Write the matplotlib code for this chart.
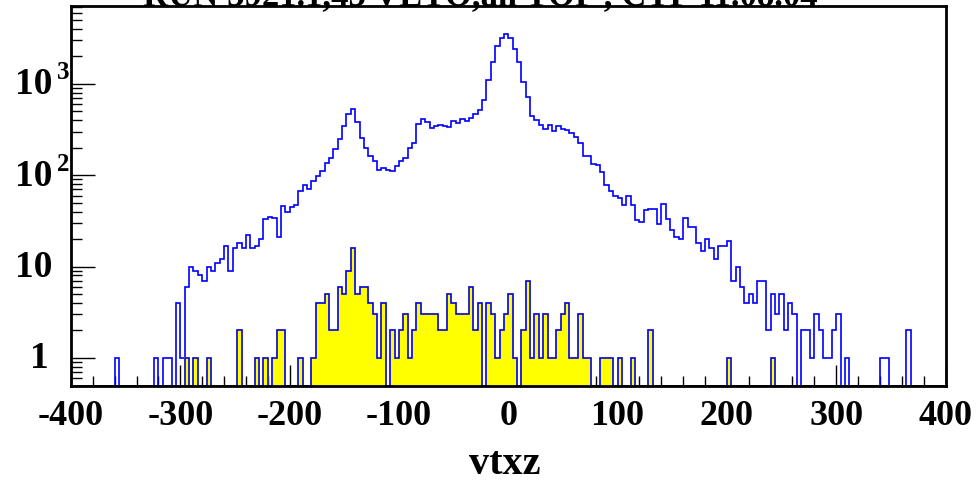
import numpy as np
import matplotlib
matplotlib.use("Agg")
import matplotlib.pyplot as plt
from matplotlib.ticker import MultipleLocator, FixedLocator, NullFormatter

# ---------------- data ----------------
title = "RUN 5921.1,45 VETO,all TOF , CTF 11.08.04"
x_label = "vtxz"
x_min, x_max, n_bins = -400, 400, 200
x_ticks = [-400, -300, -200, -100, 0, 100, 200, 300, 400]
x_tick_labels = ["-400", "-300", "-200", "-100", "0", "100", "200", "300", "400"]
y_ticks = [1, 10, 100, 1000]
y_min, y_max = 0.5, 7200

# blue histogram (all events), 4-unit bins from -400 to 400
blue_counts = [
    0, 0, 0, 0, 0, 0, 0, 0, 0, 0,            # -400 .. -364
    1, 0, 0, 0, 0, 0, 0, 0, 0, 1,            # -360 .. -324
    0, 1, 1, 0, 4, 1, 6, 10, 9, 8,           # -320 .. -284
    7, 10, 9, 11, 12, 17, 9, 16, 18, 16,     # -280 .. -244
    22, 16, 17, 20, 33, 35, 34, 21, 46, 40,  # -240 .. -204
    45, 47, 68, 78, 71, 87, 97, 110, 136, 154,   # -200 .. -164
    194, 250, 350, 472, 524, 384, 257, 198, 162, 142,  # -160 .. -124
    115, 119, 115, 110, 126, 142, 155, 198, 225, 365,  # -120 .. -84
    408, 384, 325, 345, 356, 345, 334, 397, 375, 410,  # -80 .. -44
    388, 421, 463, 514, 660, 1090, 1740, 2570, 3200, 3470,  # -40 .. -4
    3200, 2420, 1740, 1060, 720, 450, 400, 358, 322, 358,   # 0 .. 36
    303, 345, 322, 313, 293, 262, 225, 164, 164, 134,  # 40 .. 76
    128, 108, 78, 68, 60, 56, 47, 59, 47, 32,  # 80 .. 116
    31, 42, 43, 43, 29, 48, 33, 25, 21, 20,    # 120 .. 156
    34, 27, 27, 18, 15, 20, 16, 12, 17, 17,    # 160 .. 196
    19, 7, 10, 6, 4, 5, 4, 7, 7, 2,            # 200 .. 236
    5, 3, 5, 2, 4, 3, 0, 2, 2, 1,              # 240 .. 276
    3, 2, 1, 1, 2, 3, 0, 1, 0, 0,              # 280 .. 316
    0, 0, 0, 0, 0, 1, 1, 0, 0, 0,              # 320 .. 356
    0, 2, 0, 0, 0, 0, 0, 0, 0, 0,              # 360 .. 396
]

# yellow histogram (selected events)
yellow_counts = [
    0, 0, 0, 0, 0, 0, 0, 0, 0, 0,
    0, 0, 0, 0, 0, 0, 0, 0, 0, 0,
    0, 0, 0, 0, 0, 0, 1, 0, 1, 0,
    0, 1, 0, 0, 0, 0, 0, 0, 2, 0,
    0, 0, 1, 0, 1, 0, 1, 2, 2, 0,
    0, 0, 1, 0, 0, 1, 4, 4, 5, 2,
    2, 6, 5, 9, 16, 5, 6, 6, 4, 3,
    1, 4, 0, 2, 1, 2, 3, 1, 2, 4,
    3, 3, 3, 3, 2, 2, 5, 4, 3, 3,
    3, 6, 2, 4, 0, 4, 3, 1, 2, 3,
    5, 1, 0, 2, 7, 1, 3, 1, 3, 1,
    1, 2, 3, 4, 1, 1, 3, 1, 1, 0,
    0, 1, 1, 1, 0, 1, 0, 0, 1, 0,
    0, 0, 2, 0, 0, 0, 0, 0, 0, 0,
    0, 0, 0, 0, 0, 0, 0, 0, 0, 0,
    1, 0, 0, 0, 0, 0, 0, 0, 0, 0,
    1, 0, 0, 0, 0, 0, 0, 0, 0, 0,
    0, 0, 0, 0, 0, 0, 0, 0, 0, 0,
    0, 0, 0, 0, 0, 0, 0, 0, 0, 0,
    0, 0, 0, 0, 0, 0, 0, 0, 0, 0,
]

# ---------------- figure ----------------
W, H = 976, 485
fig = plt.figure(figsize=(W / 100, H / 100), dpi=100)
ax_l, ax_r, ax_t, ax_b = 71, 945.5, 6.5, 386.5
ax = fig.add_axes([ax_l / W, 1 - ax_b / H, (ax_r - ax_l) / W, (ax_b - ax_t) / H])

edges = np.linspace(x_min, x_max, n_bins + 1)
blue = np.asarray(blue_counts, dtype=float)
yel = np.asarray(yellow_counts, dtype=float)
blue_draw = np.where(blue > 0, blue, y_min)
yel_draw = np.where(yel > 0, yel, y_min)

ax.set_yscale("log")
ax.set_xlim(x_min, x_max)
ax.set_ylim(y_min, y_max)

blue_col = "#0000ff"
ax.stairs(blue_draw, edges, color=blue_col, linewidth=1.2, baseline=None, zorder=2)
ax.stairs(yel_draw, edges, fill=True, facecolor="#ffff00", edgecolor="#ffff00",
          linewidth=1.5, baseline=y_min, zorder=3)
ax.stairs(yel_draw, edges, color=blue_col, linewidth=1.2, baseline=None, zorder=3.1)

# frame
for s in ax.spines.values():
    s.set_linewidth(2.0)
    s.set_color("black")
    s.set_zorder(5)

font = dict(family="Liberation Serif", weight="bold")

# x axis ticks
ax.xaxis.set_major_locator(FixedLocator(x_ticks))
ax.xaxis.set_minor_locator(MultipleLocator(20))
ax.set_xticklabels(x_tick_labels, fontdict=dict(size=26, **font))
ax.tick_params(axis="x", which="major", direction="in", length=15, width=1,
               pad=10, top=False)
ax.tick_params(axis="x", which="minor", direction="in", length=7, width=1, top=False)

# y axis ticks
ax.yaxis.set_major_locator(FixedLocator(y_ticks))
ax.yaxis.set_minor_locator(matplotlib.ticker.LogLocator(base=10, subs=np.arange(2, 10), numticks=20))
ax.yaxis.set_major_formatter(NullFormatter())
ax.yaxis.set_minor_formatter(NullFormatter())
ax.tick_params(axis="y", which="major", direction="in", length=17, width=1, right=False)
ax.tick_params(axis="y", which="minor", direction="in", length=8, width=1, right=False)

# y tick labels drawn as text (ROOT style 10^n)
ytr = ax.get_yaxis_transform()
def px2ax(px):
    return (px - ax_l) / (ax_r - ax_l)

decade_px = (ax_b - ax_t) / (np.log10(y_max) - np.log10(y_min))
for v in y_ticks:
    e = int(round(np.log10(v)))
    if e == 0:
        ax.text(px2ax(39), v, "1", transform=ytr, ha="center", va="center",
                size=27, clip_on=False, **font)
    else:
        ax.text(px2ax(33.5), v, "10", transform=ytr, ha="center", va="center",
                size=27, clip_on=False, **font)
        if e >= 2:
            vs = 10 ** (np.log10(v) + 12 / decade_px)
            ax.text(px2ax(57), vs, str(e), transform=ytr, ha="left", va="center",
                    size=18, clip_on=False, **font)

# axis label
fig.text(505 / W, 1 - 465 / H, x_label, ha="center", va="center", size=29, **font)

# title (partly cut off at the top edge, as in the original)
fig.text(480 / W, 1 - 5 / H, title, ha="center", va="baseline", size=25, **font)

fig.savefig("out.png", dpi=100)
